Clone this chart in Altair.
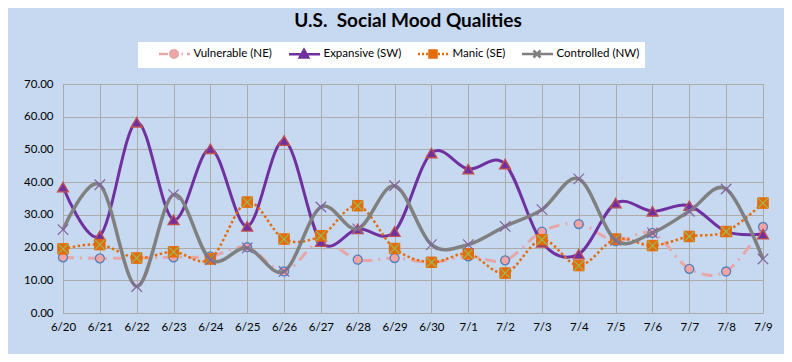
import altair as alt
import pandas as pd

dates = ["6/20", "6/21", "6/22", "6/23", "6/24", "6/25", "6/26", "6/27", "6/28", "6/29",
         "6/30", "7/1", "7/2", "7/3", "7/4", "7/5", "7/6", "7/7", "7/8", "7/9"]
series_names = ["Vulnerable (NE)", "Expansive (SW)", "Manic (SE)", "Controlled (NW)"]
vulnerable = [17.0, 16.7, 16.8, 17.0, 17.3, 20.1, 12.7, 22.0, 16.3, 16.8,
              15.5, 17.3, 16.1, 24.9, 27.2, 22.0, 24.5, 13.5, 12.7, 26.3]
expansive = [38.5, 23.6, 58.3, 28.5, 50.2, 26.5, 52.7, 21.8, 25.7, 24.9,
             48.9, 44.0, 45.5, 21.6, 18.0, 33.6, 31.1, 32.8, 24.9, 24.1]
manic = [19.6, 20.9, 16.8, 18.7, 16.5, 33.9, 22.6, 23.6, 32.8, 19.7,
         15.5, 18.1, 12.2, 22.4, 14.5, 22.6, 20.6, 23.4, 24.9, 33.6]
controlled = [25.5, 39.2, 8.1, 36.2, 16.3, 19.9, 12.7, 32.4, 25.7, 38.9,
              20.9, 20.9, 26.5, 31.6, 41.0, 22.2, 24.5, 31.1, 37.9, 16.5]
y_ticks = [0, 10, 20, 30, 40, 50, 60, 70]

rows = []
for name, vals in zip(series_names, [vulnerable, expansive, manic, controlled]):
    for d, v in zip(dates, vals):
        rows.append({"date": d, "value": v, "series": name})
df = pd.DataFrame(rows)

FONT = "Lato"
GRID = "#ABABAB"

x_enc = alt.X("date:O", sort=dates, title=None,
              scale=alt.Scale(type="point", padding=0),
              axis=alt.Axis(labelAngle=0, ticks=False, labelPadding=8, grid=True,
                            gridColor=GRID, domainColor=GRID, labelFont=FONT,
                            labelFontSize=11.5, labelColor="#000000"))
y_enc = alt.Y("value:Q", title=None, scale=alt.Scale(domain=[0, 70], nice=False),
              axis=alt.Axis(values=y_ticks, format=".2f", ticks=False, labelPadding=10,
                            grid=True, gridColor=GRID, domainColor=GRID, labelFont=FONT,
                            labelFontSize=11.5, labelColor="#000000"))

base = alt.Chart(df)


def line(name, **kw):
    return base.transform_filter(alt.datum.series == name).mark_line(
        interpolate="cardinal", **kw).encode(x=x_enc, y=y_enc)


def pts(name, **kw):
    return base.transform_filter(alt.datum.series == name).mark_point(
        opacity=1, **kw).encode(x=x_enc, y=y_enc)


XPATH = "M-1,-1L1,1M-1,1L1,-1"

line_v = line(series_names[0], color="#E8A7A7", strokeWidth=3, strokeDash=[11, 6, 2, 6])
pts_v = pts(series_names[0], shape="circle", filled=True, fill="#F4A3A3",
            stroke="#4F81BD", strokeWidth=1.3, size=80)
line_e = line(series_names[1], color="#7030A0", strokeWidth=3)
pts_e = pts(series_names[1], shape="triangle-up", filled=True, fill="#7030A0",
            stroke="#C0504D", strokeWidth=1.3, size=120)
line_m = line(series_names[2], color="#E46C0A", strokeWidth=2.5, strokeDash=[2.5, 2.5])
pts_m = pts(series_names[2], shape="square", filled=True, fill="#E46C0A",
            stroke="#E46C0A", strokeWidth=1, size=110)
pts_m2 = pts(series_names[2], shape=XPATH, filled=False, stroke="#9BBB59",
             strokeWidth=1.2, size=90)
line_c = line(series_names[3], color="#808080", strokeWidth=3.5)
pts_c = pts(series_names[3], shape=XPATH, filled=False, stroke="#8064A2",
            strokeWidth=1.2, size=110)

# legend symbols: line + marker paths (units of 5px at symbol size 100)
legend_paths = [
    "M-1,0H0.8M1.25,0A0.75,0.75,0,1,1,2.75,0A0.75,0.75,0,1,1,1.25,0ZM3.5,0H3.8M4.6,0H5.2",
    "M-1,0H5.2M2,-0.85L2.85,0.65L1.15,0.65Z",
    "M-1,0H-0.6M-0.2,0H0.2M0.6,0H1M1.3,-0.7H2.7V0.7H1.3ZM3,0H3.4M3.8,0H4.2M4.6,0H5",
    "M-1,0H5.2M1.3,-0.7L2.7,0.7M1.3,0.7L2.7,-0.7M21.2,0",
]
legend_fills = ["#F4A3A3", "#7030A0", "#E46C0A", "#808080"]
legend_strokes = ["#E8A7A7", "#7030A0", "#E46C0A", "#808080"]

leg = dict(title="\u00a0", titleOrient="left", titlePadding=14.5, orient="none",
           legendX=75, legendY=-42, direction="horizontal",
           fillColor="white", padding=5, labelFont=FONT, labelFontSize=11.5,
           labelColor="#000000", labelOffset=23, columnPadding=11, symbolSize=100,
           symbolStrokeWidth=2.5, symbolOpacity=1)

legend_df = pd.DataFrame({"series": series_names})
legend_layer = alt.Chart(legend_df).mark_point(opacity=0, size=100, strokeWidth=2.5, filled=True).encode(
    shape=alt.Shape("series:N", sort=series_names,
                    scale=alt.Scale(domain=series_names, range=legend_paths),
                    legend=alt.Legend(**leg)),
    fill=alt.Fill("series:N", sort=series_names,
                  scale=alt.Scale(domain=series_names, range=legend_fills),
                  legend=alt.Legend(**leg)),
    stroke=alt.Stroke("series:N", sort=series_names,
                      scale=alt.Scale(domain=series_names, range=legend_strokes),
                      legend=alt.Legend(**leg)),
)

chart = alt.layer(
    line_v, pts_v, line_e, pts_e, line_m, pts_m, pts_m2, line_c, pts_c, legend_layer
).properties(
    width=700, height=229,
    padding={"left": 55, "top": 76, "right": 21, "bottom": 41},
    autosize=alt.AutoSizeParams(type="none"),
    background="#C6D9F1",
    title=alt.TitleParams(text="U.S.\u00a0 Social Mood Qualities", font=FONT, fontSize=19,
                          fontWeight="bold", color="#000000", anchor="middle",
                          frame="group", offset=11, dx=-5),
).configure_view(fill="white", stroke=GRID)

chart.save("out.html", embed_options={"renderer": "svg", "actions": False})
